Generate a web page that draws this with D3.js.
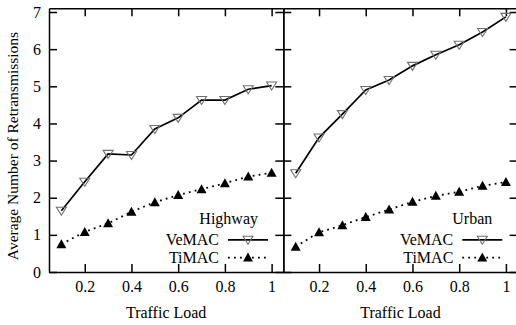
<!DOCTYPE html>
<html>
<head>
<meta charset="utf-8">
<script src="https://cdn.jsdelivr.net/npm/d3@7"></script>
<style>
  body { margin: 0; background: #fff; }
  svg { display: block; font-family: "Liberation Serif", "DejaVu Serif", serif; }
  .axis path, .axis line { stroke: #000; stroke-width: 1.5; }
  .axis text { font-family: "Liberation Serif", serif; font-size: 16px; fill: #000; }
  .label { font-size: 16px; fill: #000; }
  .legend { font-size: 16px; fill: #000; }
</style>
</head>
<body>
<script>
// traffic load values (x)
var loads = [0.1, 0.2, 0.3, 0.4, 0.5, 0.6, 0.7, 0.8, 0.9, 1.0];

// average number of retransmissions
var highwayVeMAC = [1.65, 2.43, 3.18, 3.15, 3.85, 4.15, 4.63, 4.63, 4.92, 5.02];
var highwayTiMAC = [0.75, 1.08, 1.31, 1.62, 1.88, 2.07, 2.23, 2.39, 2.57, 2.67];
var urbanVeMAC   = [2.66, 3.62, 4.25, 4.90, 5.17, 5.55, 5.85, 6.12, 6.46, 6.87];
var urbanTiMAC   = [0.68, 1.07, 1.26, 1.48, 1.68, 1.89, 2.05, 2.16, 2.32, 2.42];

var xTicks = [0.2, 0.4, 0.6, 0.8, 1];
var yTicks = [0, 1, 2, 3, 4, 5, 6, 7];

var panels = [
  {name: "Highway", vemac: highwayVeMAC, timac: highwayTiMAC, left: 49, labels: true},
  {name: "Urban",   vemac: urbanVeMAC,   timac: urbanTiMAC,   left: 283.3, labels: false}
];

var width = 516, height = 325,
    plotW = 234.3, plotTop = 8.3, plotBottom = 272;

var svg = d3.select("body").append("svg")
    .attr("width", width)
    .attr("height", height);

var y = d3.scaleLinear().domain([0, 7.1]).range([plotBottom, plotTop]);

var down = "M-5,-3.5L5,-3.5L0,4.5Z",
    up = "M-5,4L5,4L0,-5Z";

panels.forEach(function(p) {
  var x = d3.scaleLinear().domain([0.047, 1.05]).range([p.left, p.left + plotW]);
  var g = svg.append("g");

  // axes, ticks point inward and are mirrored
  g.append("g")
      .attr("class", "axis")
      .attr("transform", "translate(0," + plotBottom + ")")
      .call(d3.axisBottom(x).tickValues(xTicks).tickSize(-8).tickSizeOuter(0)
        .tickPadding(9).tickFormat(d3.format("")));
  g.append("g")
      .attr("class", "axis")
      .attr("transform", "translate(0," + plotTop + ")")
      .call(d3.axisTop(x).tickValues(xTicks).tickSize(-8).tickSizeOuter(0).tickFormat(""));
  g.append("g")
      .attr("class", "axis")
      .attr("transform", "translate(" + p.left + ",0)")
      .call(d3.axisLeft(y).tickValues(yTicks).tickSize(-8).tickSizeOuter(0)
        .tickPadding(8).tickFormat(p.labels ? d3.format("") : ""));
  g.append("g")
      .attr("class", "axis")
      .attr("transform", "translate(" + (p.left + plotW) + ",0)")
      .call(d3.axisRight(y).tickValues(yTicks).tickSize(-8).tickSizeOuter(0).tickFormat(""));

  var line = d3.line()
      .x(function(d, i) { return x(loads[i]); })
      .y(function(d) { return y(d); });

  g.append("path")
      .datum(p.vemac)
      .attr("d", line)
      .attr("fill", "none")
      .attr("stroke", "#000")
      .attr("stroke-width", 1.7);

  g.append("path")
      .datum(p.timac)
      .attr("d", line)
      .attr("fill", "none")
      .attr("stroke", "#000")
      .attr("stroke-width", 1.8)
      .attr("stroke-dasharray", "1.8,4.2");

  g.selectAll(".ve")
      .data(p.vemac)
    .enter().append("path")
      .attr("d", down)
      .attr("transform", function(d, i) { return "translate(" + x(loads[i]) + "," + y(d) + ")"; })
      .attr("fill", "none")
      .attr("stroke", "#707070")
      .attr("stroke-width", 1.1);

  g.selectAll(".ti")
      .data(p.timac)
    .enter().append("path")
      .attr("d", up)
      .attr("transform", function(d, i) { return "translate(" + x(loads[i]) + "," + y(d) + ")"; })
      .attr("fill", "#000");

  // legend
  var sx0 = p.left + 179, sx1 = p.left + 219;
  g.append("text")
      .attr("class", "legend")
      .attr("x", p.left + 209)
      .attr("y", 224)
      .attr("text-anchor", "end")
      .text(p.name);

  var rows = [{name: "VeMAC", y: 239.8, dash: null, w: 1.7, sym: down},
              {name: "TiMAC", y: 257.6, dash: "1.8,4.2", w: 1.8, sym: up}];
  rows.forEach(function(r) {
    g.append("text")
        .attr("class", "legend")
        .attr("x", sx0 - 9)
        .attr("y", r.y + 5.5)
        .attr("text-anchor", "end")
        .text(r.name);
    g.append("line")
        .attr("x1", sx0).attr("x2", sx1)
        .attr("y1", r.y).attr("y2", r.y)
        .attr("stroke", "#000")
        .attr("stroke-width", r.w)
        .attr("stroke-dasharray", r.dash);
    g.append("path")
        .attr("d", r.sym)
        .attr("transform", "translate(" + ((sx0 + sx1) / 2) + "," + r.y + ")")
        .attr("fill", r.dash ? "#000" : "none")
        .attr("stroke", r.dash ? null : "#707070")
        .attr("stroke-width", 1.1);
  });

  g.append("text")
      .attr("class", "label")
      .attr("x", p.left + plotW / 2)
      .attr("y", 318)
      .attr("text-anchor", "middle")
      .text("Traffic Load");
});

svg.append("text")
    .attr("class", "label")
    .style("font-size", "15.5px")
    .attr("transform", "translate(18,146) rotate(-90)")
    .attr("text-anchor", "middle")
    .text("Average Number of Retransmissions");
</script>
</body>
</html>
